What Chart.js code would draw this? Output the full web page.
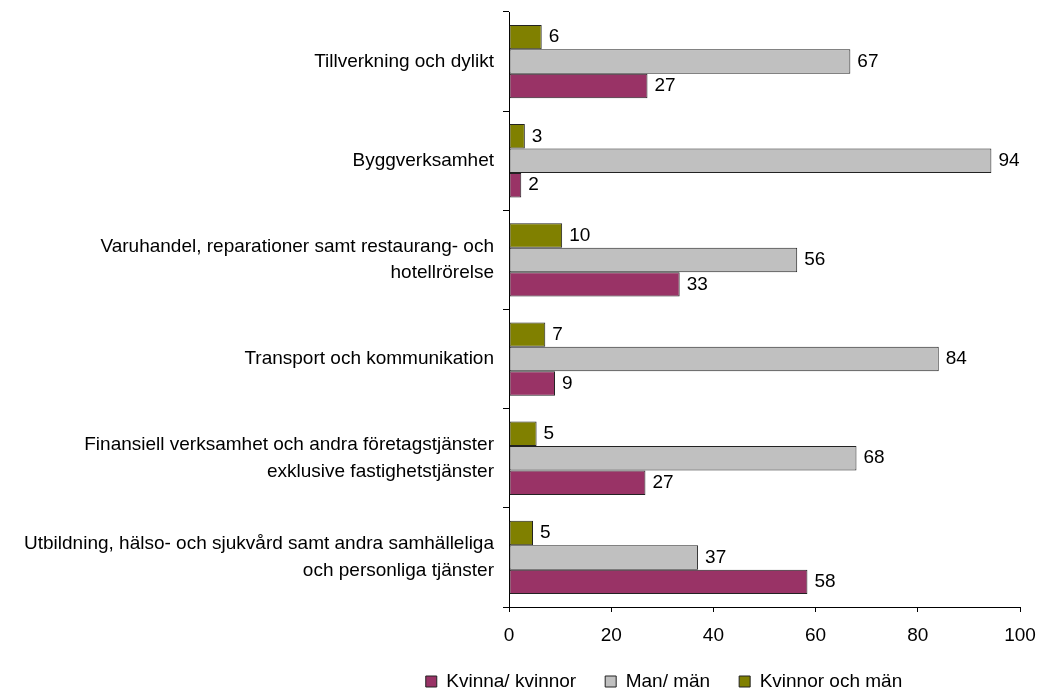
<!DOCTYPE html>
<html>
<head>
<meta charset="utf-8">
<script src="https://cdn.jsdelivr.net/npm/chart.js@4/dist/chart.umd.min.js"></script>
<style>
  html, body { margin: 0; padding: 0; background: #fff; }
  #wrap { width: 1040px; height: 689px; position: relative; }
</style>
</head>
<body>
<div id="wrap"><canvas id="grafica"></canvas></div>
<script>
// branscher (kategorier), flerradiga etiketter
const kategorier = [
    ['Tillverkning och dylikt'],
    ['Byggverksamhet'],
    ['Varuhandel, reparationer samt restaurang- och', 'hotellrörelse'],
    ['Transport och kommunikation'],
    ['Finansiell verksamhet och andra företagstjänster', 'exklusive fastighetstjänster'],
    ['Utbildning, hälso- och sjukvård samt andra samhälleliga', 'och personliga tjänster']
];

// andel i procent
const kvinnorOchMan = [6.4, 3.1, 10.4, 7.1, 5.4, 4.7];
const manMan = [66.8, 94.4, 56.4, 84.1, 68.0, 37.0];
const kvinnaKvinnor = [27.1, 2.4, 33.4, 9.0, 26.7, 58.4];

const xTicks = [0, 20, 40, 60, 80, 100];

const typsnitt = { family: 'Liberation Sans, Arial, sans-serif', size: 19 };

// skriver värdet till höger om varje stapel
const etikettPlugin = {
    id: 'etiketter',
    afterDatasetsDraw(chart) {
        const ctx = chart.ctx;
        ctx.save();
        ctx.font = '19px "Liberation Sans", Arial, sans-serif';
        ctx.fillStyle = '#000';
        ctx.textAlign = 'left';
        ctx.textBaseline = 'middle';
        chart.data.datasets.forEach((ds, i) => {
            const meta = chart.getDatasetMeta(i);
            meta.data.forEach((bar, j) => {
                ctx.fillText(Math.round(ds.data[j]), bar.x + 7, bar.y);
            });
        });
        ctx.restore();
    }
};

// flyttar förklaringen så att den hamnar som i originalet
const flyttaLegend = {
    id: 'flyttaLegend',
    afterLayout(chart) {
        const lg = chart.legend;
        if (!lg) return;
        lg.left += 154; lg.right += 154;
        lg.top -= 8;
        lg.bottom = chart.height;
    }
};

const ctx = document.getElementById('grafica').getContext('2d');
new Chart(ctx, {
    type: 'bar',
    data: {
        labels: kategorier,
        datasets: [
            { label: 'Kvinnor och män', data: kvinnorOchMan, backgroundColor: '#808000' },
            { label: 'Man/ män', data: manMan, backgroundColor: '#C0C0C0' },
            { label: 'Kvinna/ kvinnor', data: kvinnaKvinnor, backgroundColor: '#993366' }
        ].map(d => Object.assign(d, {
            borderColor: '#222',
            borderWidth: 1,
            borderSkipped: false,
            categoryPercentage: 0.74,
            barPercentage: 1.0
        }))
    },
    options: {
        indexAxis: 'y',
        responsive: true,
        maintainAspectRatio: false,
        animation: false,
        layout: { padding: { top: 12, right: 20, bottom: 0, left: 0 } },
        scales: {
            x: {
                min: 0, max: 100,
                afterBuildTicks: s => { s.ticks = xTicks.map(v => ({ value: v })); },
                afterFit: s => { s.height = 44; s.paddingLeft = 0; s.paddingRight = 0; },
                grid: { drawOnChartArea: false, tickLength: 5, color: '#000' },
                border: { color: '#000', width: 1 },
                ticks: { color: '#000', font: typsnitt, padding: 12, maxRotation: 0 }
            },
            y: {
                afterFit: s => { s.width = 509; s.paddingTop = 0; s.paddingBottom = 0; },
                grid: { drawOnChartArea: false, tickLength: 6, color: '#000', offset: true },
                border: { color: '#000', width: 1 },
                ticks: { color: '#000', font: Object.assign({ lineHeight: 1.4 }, typsnitt), padding: 9 }
            }
        },
        plugins: {
            legend: {
                position: 'bottom',
                reverse: true,
                maxHeight: 38,
                labels: {
                    boxWidth: 11, boxHeight: 11, padding: 29,
                    color: '#000', font: typsnitt
                }
            },
            tooltip: { enabled: false }
        }
    },
    plugins: [etikettPlugin, flyttaLegend]
});
</script>
</body>
</html>
